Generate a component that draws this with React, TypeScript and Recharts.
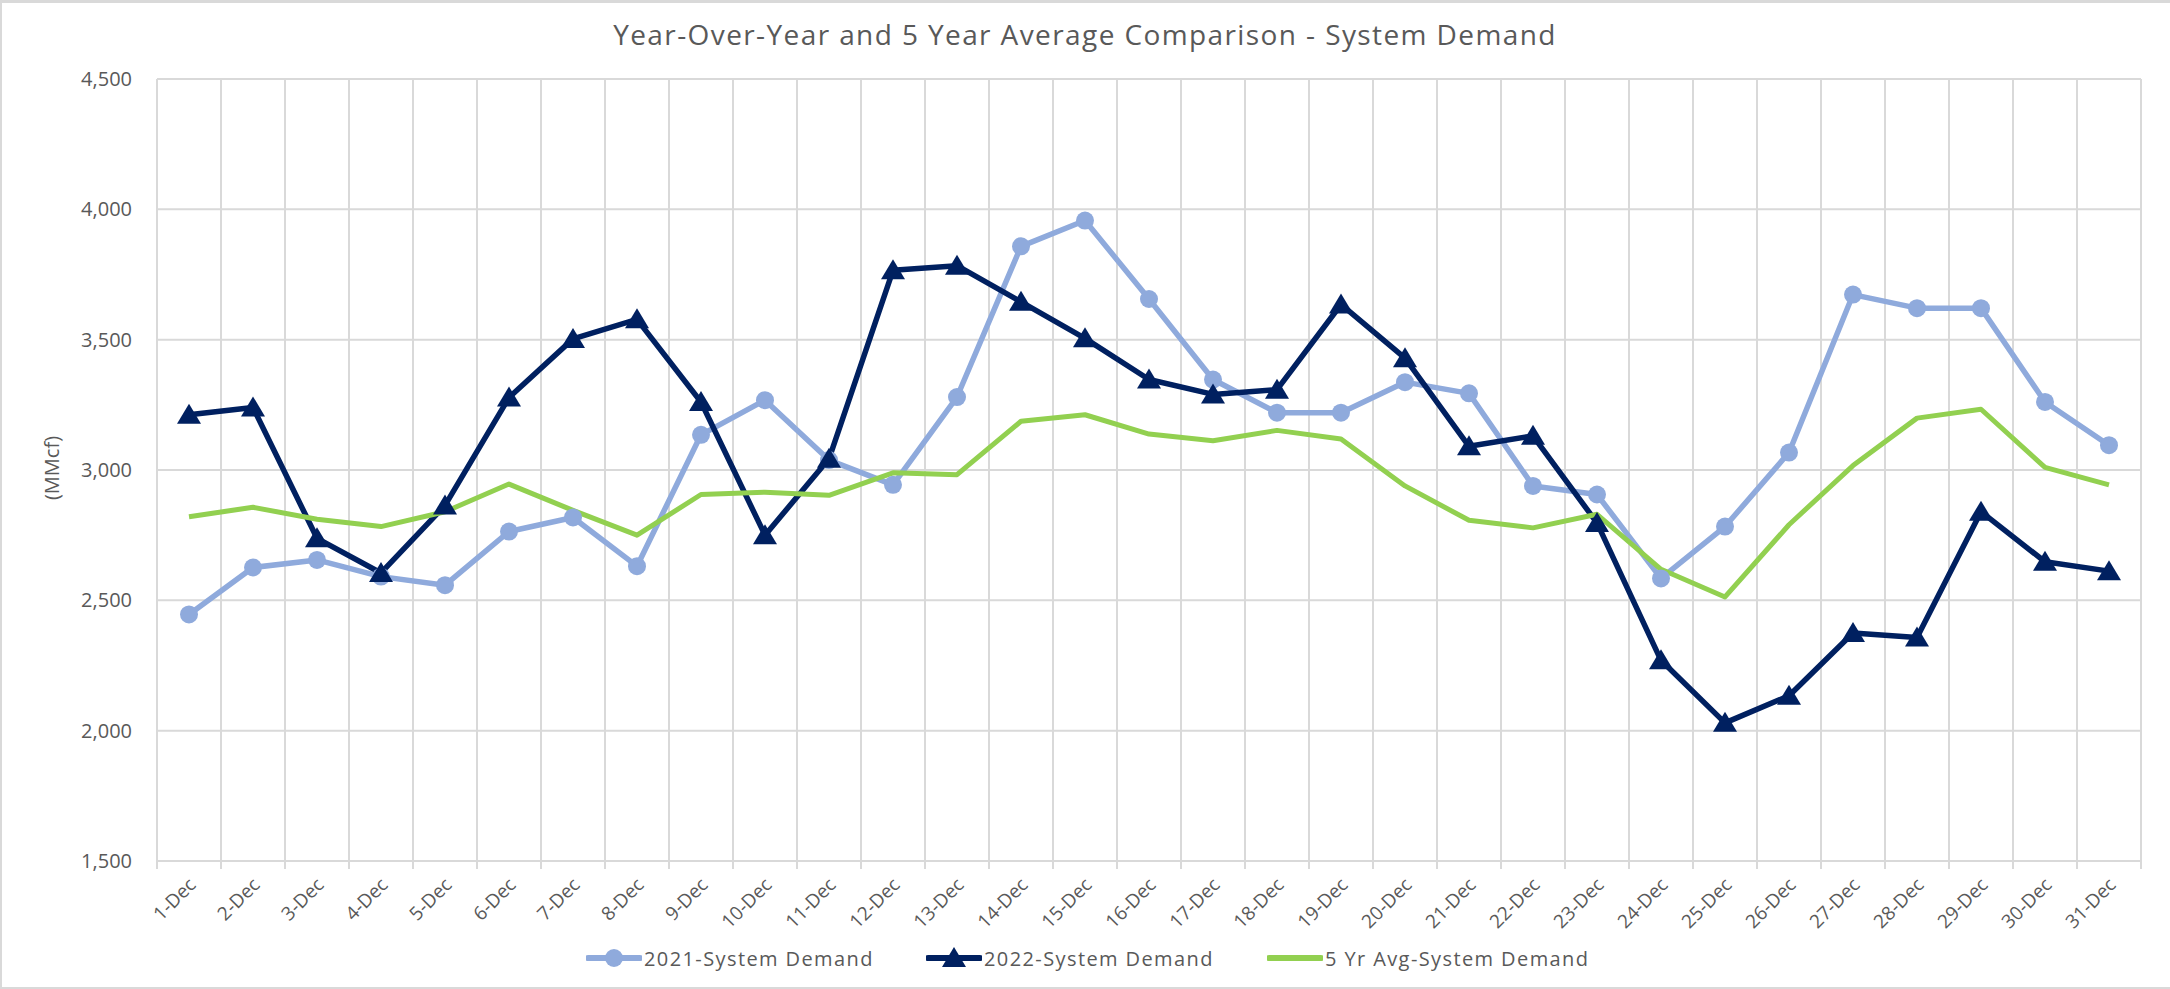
import { LineChart, Line, XAxis, YAxis, CartesianGrid } from 'recharts'

// values (MMcf)
const days = [
  '1-Dec', '2-Dec', '3-Dec', '4-Dec', '5-Dec', '6-Dec', '7-Dec', '8-Dec', '9-Dec', '10-Dec',
  '11-Dec', '12-Dec', '13-Dec', '14-Dec', '15-Dec', '16-Dec', '17-Dec', '18-Dec', '19-Dec', '20-Dec',
  '21-Dec', '22-Dec', '23-Dec', '24-Dec', '25-Dec', '26-Dec', '27-Dec', '28-Dec', '29-Dec', '30-Dec',
  '31-Dec',
]
const demand2021 = [
  2446, 2626, 2655, 2591, 2558, 2764, 2818, 2631, 3135, 3268,
  3038, 2943, 3280, 3858, 3957, 3656, 3347, 3220, 3220, 3337,
  3294, 2939, 2906, 2584, 2783, 3067, 3673, 3621, 3621, 3261,
  3095,
]
const demand2022 = [
  3212, 3240, 2738, 2605, 2864, 3278, 3503, 3578, 3261, 2750,
  3043, 3766, 3784, 3645, 3505, 3347, 3290, 3308, 3635, 3429,
  3091, 3131, 2797, 2270, 2030, 2134, 2375, 2357, 2840, 2648,
  2612,
]
const avg5yr = [
  2821, 2857, 2811, 2783, 2840, 2946, 2845, 2750, 2906, 2915,
  2903, 2989, 2982, 3187, 3212, 3138, 3112, 3152, 3119, 2939,
  2807, 2778, 2830, 2619, 2513, 2790, 3017, 3199, 3233, 3010,
  2943,
]
const yTicks = [1500, 2000, 2500, 3000, 3500, 4000, 4500]

const data = days.map((day, i) => ({
  day,
  y2021: demand2021[i],
  y2022: demand2022[i],
  avg: avg5yr[i],
}))

const W = 2170
const H = 989
const FONT = '"Open Sans", "Noto Sans", sans-serif'
const TEXT = '#595959'
const GRID = '#d9d9d9'
const C2021 = '#8faadc'
const C2022 = '#002060'
const CAVG = '#92d050'
const HALF = 32 // half a category slot, points sit between the gridlines

const fmt = (v: number) => v.toLocaleString('en-US')

function XTick(props: any) {
  const { x, y, payload, index } = props
  return (
    <g>
      <line x1={x - HALF} x2={x - HALF} y1={y} y2={y + 8} stroke={GRID} strokeWidth={2} />
      {index === days.length - 1 && (
        <line x1={x + HALF} x2={x + HALF} y1={y} y2={y + 8} stroke={GRID} strokeWidth={2} />
      )}
      <text
        transform={`translate(${x + 8},${y + 25}) rotate(-45)`}
        textAnchor="end"
        fill={TEXT}
        fontSize={19}
        fontFamily={FONT}
      >
        {payload.value}
      </text>
    </g>
  )
}

function CircleDot(props: any) {
  const { cx, cy, index } = props
  if (cx == null || cy == null) return <g key={`c${index}`} />
  return <circle key={`c${index}`} cx={cx} cy={cy} r={9} fill={C2021} />
}

function TriangleDot(props: any) {
  const { cx, cy, index } = props
  if (cx == null || cy == null) return <g key={`t${index}`} />
  return (
    <polygon
      key={`t${index}`}
      points={`${cx},${cy - 11} ${cx + 12},${cy + 9} ${cx - 12},${cy + 9}`}
      fill={C2022}
    />
  )
}

function LegendItem({ left, kind, color, label }: { left: number; kind: string; color: string; label: string }) {
  return (
    <div style={{ position: 'absolute', left, top: 943, height: 30, display: 'flex', alignItems: 'center' }}>
      <svg width={56} height={30}>
        <line x1={2} x2={54} y1={15} y2={15} stroke={color} strokeWidth={6} strokeLinecap="round" />
        {kind === 'circle' && <circle cx={28} cy={15} r={9} fill={color} />}
        {kind === 'triangle' && <polygon points="28,4 40,24 16,24" fill={color} />}
      </svg>
      <span style={{ marginLeft: 2, fontSize: 20, letterSpacing: 1.4, color: TEXT, fontFamily: FONT, whiteSpace: 'nowrap' }}>
        {label}
      </span>
    </div>
  )
}

export default function App() {
  return (
    <div style={{ position: 'absolute', left: 0, top: 0, width: W, height: H, background: '#fff', fontFamily: FONT }}>
      <div
        style={{
          position: 'absolute', left: 0, top: 14, width: W, textAlign: 'center',
          fontSize: 28, lineHeight: '40px', letterSpacing: 1.4, color: TEXT,
        }}
      >
        Year-Over-Year and 5 Year Average Comparison - System Demand
      </div>
      <div
        style={{
          position: 'absolute', left: 51, top: 468, transform: 'translate(-50%, -50%) rotate(-90deg)',
          fontSize: 20, color: TEXT, whiteSpace: 'nowrap',
        }}
      >
        (MMcf)
      </div>

      <LineChart width={W} height={H} data={data} margin={{ top: 79, right: 29, left: 0, bottom: 0 }}>
        <CartesianGrid
          stroke={GRID}
          strokeWidth={2}
          verticalCoordinatesGenerator={({ offset }: any) =>
            Array.from({ length: days.length + 1 }, (_, i) => offset.left + (i * offset.width) / days.length)
          }
        />
        <XAxis
          dataKey="day"
          interval={0}
          height={128}
          padding={{ left: HALF, right: HALF }}
          tickSize={0}
          tickMargin={0}
          axisLine={false}
          tickLine={false}
          tick={<XTick />}
        />
        <YAxis
          width={157}
          domain={[1500, 4500]}
          ticks={yTicks}
          axisLine={false}
          tickLine={false}
          tickSize={0}
          tickMargin={25}
          tickFormatter={fmt}
          tick={{ fill: TEXT, fontSize: 20, fontFamily: FONT }}
        />
        <Line
          dataKey="y2021"
          name="2021-System Demand"
          stroke={C2021}
          strokeWidth={5.5}
          strokeLinejoin="round"
          dot={CircleDot}
          activeDot={false}
          isAnimationActive={false}
        />
        <Line
          dataKey="y2022"
          name="2022-System Demand"
          stroke={C2022}
          strokeWidth={5.5}
          strokeLinejoin="round"
          dot={TriangleDot}
          activeDot={false}
          isAnimationActive={false}
        />
        <Line
          dataKey="avg"
          name="5 Yr Avg-System Demand"
          stroke={CAVG}
          strokeWidth={5}
          strokeLinejoin="round"
          dot={false}
          activeDot={false}
          isAnimationActive={false}
        />
      </LineChart>

      <LegendItem left={586} kind="circle" color={C2021} label="2021-System Demand" />
      <LegendItem left={926} kind="triangle" color={C2022} label="2022-System Demand" />
      <LegendItem left={1267} kind="line" color={CAVG} label="5 Yr Avg-System Demand" />

      <div
        style={{
          position: 'absolute', left: 0, top: 0, width: W, height: H, boxSizing: 'border-box',
          borderTop: `3px solid ${GRID}`, borderLeft: `2px solid ${GRID}`, borderBottom: `2px solid ${GRID}`,
          pointerEvents: 'none',
        }}
      />
    </div>
  )
}
